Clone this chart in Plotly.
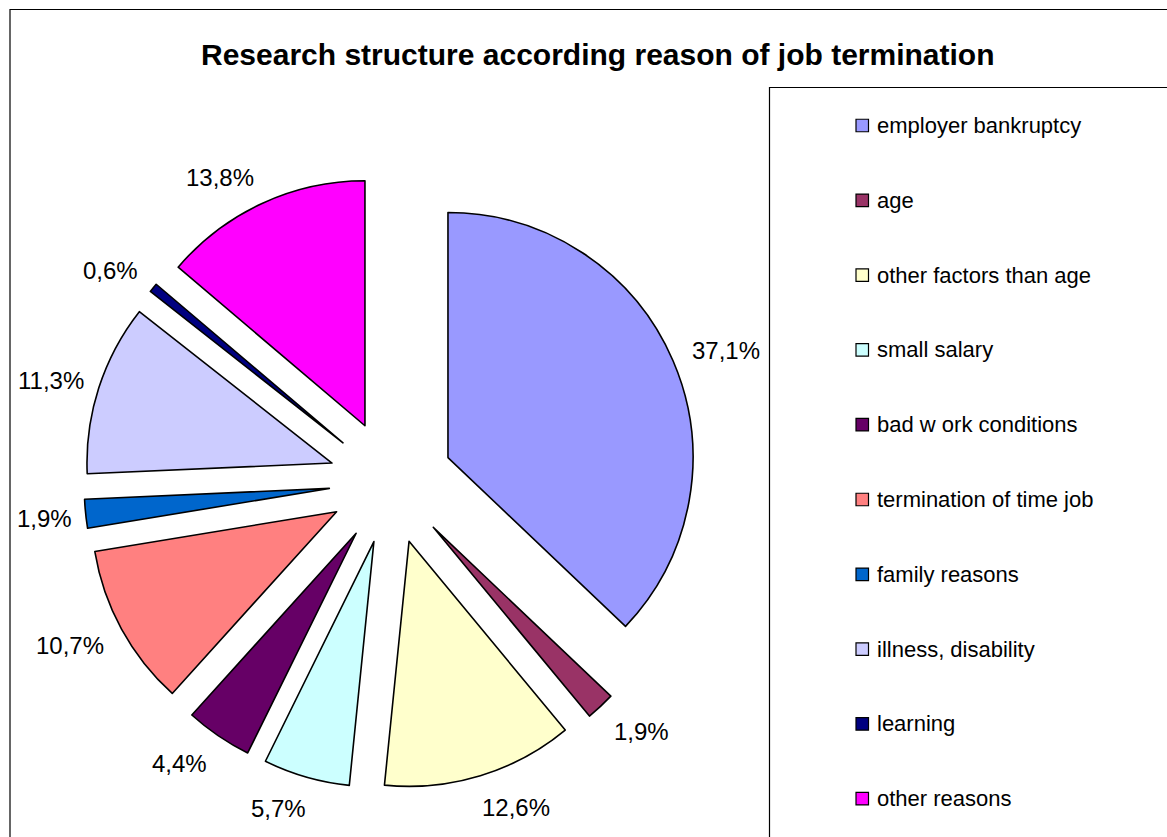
import math
import plotly.graph_objects as go

# Reasons for job termination and their share of respondents (%)
reasons = [
    "employer bankruptcy",
    "age",
    "other factors than age",
    "small salary",
    "bad w ork conditions",
    "termination of time job",
    "family reasons",
    "illness, disability",
    "learning",
    "other reasons",
]
shares = [37.1, 1.9, 12.6, 5.7, 4.4, 10.7, 1.9, 11.3, 0.6, 13.8]
colors = [
    "#9999FF", "#993366", "#FFFFCC", "#CCFFFF", "#660066",
    "#FF8080", "#0066CC", "#CCCCFF", "#000080", "#FF00FF",
]

W, H = 1167, 837
FONT = "Liberation Sans, Arial, sans-serif"

# pie placement (pixels) and explode factor
PIE_CX, PIE_CY, PIE_HALF = 391, 482, 307
PULL = 0.253
outer = PIE_HALF  # distance from centre to the arc of an exploded slice

fig = go.Figure()
fig.add_trace(go.Pie(
    labels=reasons,
    values=shares,
    textinfo="none",
    marker=dict(colors=colors, line=dict(color="#000000", width=1.6)),
    sort=False,
    direction="clockwise",
    rotation=0,
    pull=[PULL] * len(shares),
    domain=dict(x=[(PIE_CX - PIE_HALF) / W, (PIE_CX + PIE_HALF) / W],
                y=[1 - (PIE_CY + PIE_HALF) / H, 1 - (PIE_CY - PIE_HALF) / H]),
    showlegend=False,
    hoverinfo="label+percent",
))

shapes = [
    # outer chart frame
    dict(type="rect", xref="paper", yref="paper",
         x0=10 / W, x1=1.01, y0=-0.01, y1=1 - 9.5 / H,
         line=dict(color="#000000", width=1.2), fillcolor="rgba(0,0,0,0)"),
    # legend frame
    dict(type="rect", xref="paper", yref="paper",
         x0=769.5 / W, x1=1.01, y0=-0.01, y1=1 - 87.5 / H,
         line=dict(color="#000000", width=1.2), fillcolor="rgba(0,0,0,0)"),
]
annotations = [
    dict(text="<b>Research structure according reason of job termination</b>",
         xref="paper", yref="paper", x=598 / W, y=1 - 55 / H,
         xanchor="center", yanchor="middle", showarrow=False,
         font=dict(family=FONT, size=30, color="#000000")),
]

# percentage labels placed just outside each exploded slice:
# the label box corner nearest the slice sits a short gap beyond the arc
LABEL_SIZE = 24
total = sum(shares)
cum = 0.0
for v in shares:
    mid = (cum + v / 2) / total * 2 * math.pi
    cum += v
    txt = f"{v:.1f}%".replace(".", ",")
    n_digits = sum(ch.isdigit() for ch in txt)
    w = LABEL_SIZE * (0.556 * n_digits + 0.278 + 0.889)
    h = 22
    sx, sy = math.sin(mid), -math.cos(mid)
    dist = outer + 20
    lx = PIE_CX + dist * sx + max(-1.0, min(1.0, 3 * sx)) * w / 2
    ly = PIE_CY + dist * sy + sy * h / 2 + 2
    lx = max(lx, 17 + w / 2)
    annotations.append(dict(text=txt, xref="paper", yref="paper",
                            x=lx / W, y=1 - ly / H,
                            xanchor="center", yanchor="middle", showarrow=False,
                            font=dict(family=FONT, size=LABEL_SIZE, color="#000000")))

# legend entries: swatch + label, evenly spaced down the legend frame
legend_top, legend_step = 125.5, 74.8
for i, (name, col) in enumerate(zip(reasons, colors)):
    yc = legend_top + i * legend_step
    shapes.append(dict(type="rect", xref="paper", yref="paper",
                       x0=856 / W, x1=868.5 / W,
                       y0=1 - (yc + 6.25) / H, y1=1 - (yc - 6.25) / H,
                       line=dict(color="#000000", width=1.2), fillcolor=col))
    annotations.append(dict(text=name, xref="paper", yref="paper",
                            x=875 / W, y=1 - yc / H,
                            xanchor="left", yanchor="middle", showarrow=False,
                            font=dict(family=FONT, size=22, color="#000000")))

fig.update_layout(
    width=W, height=H,
    margin=dict(l=0, r=0, t=0, b=0, autoexpand=False),
    paper_bgcolor="#FFFFFF",
    plot_bgcolor="#FFFFFF",
    shapes=shapes,
    annotations=annotations,
    showlegend=False,
)

fig.write_html("out.html")
